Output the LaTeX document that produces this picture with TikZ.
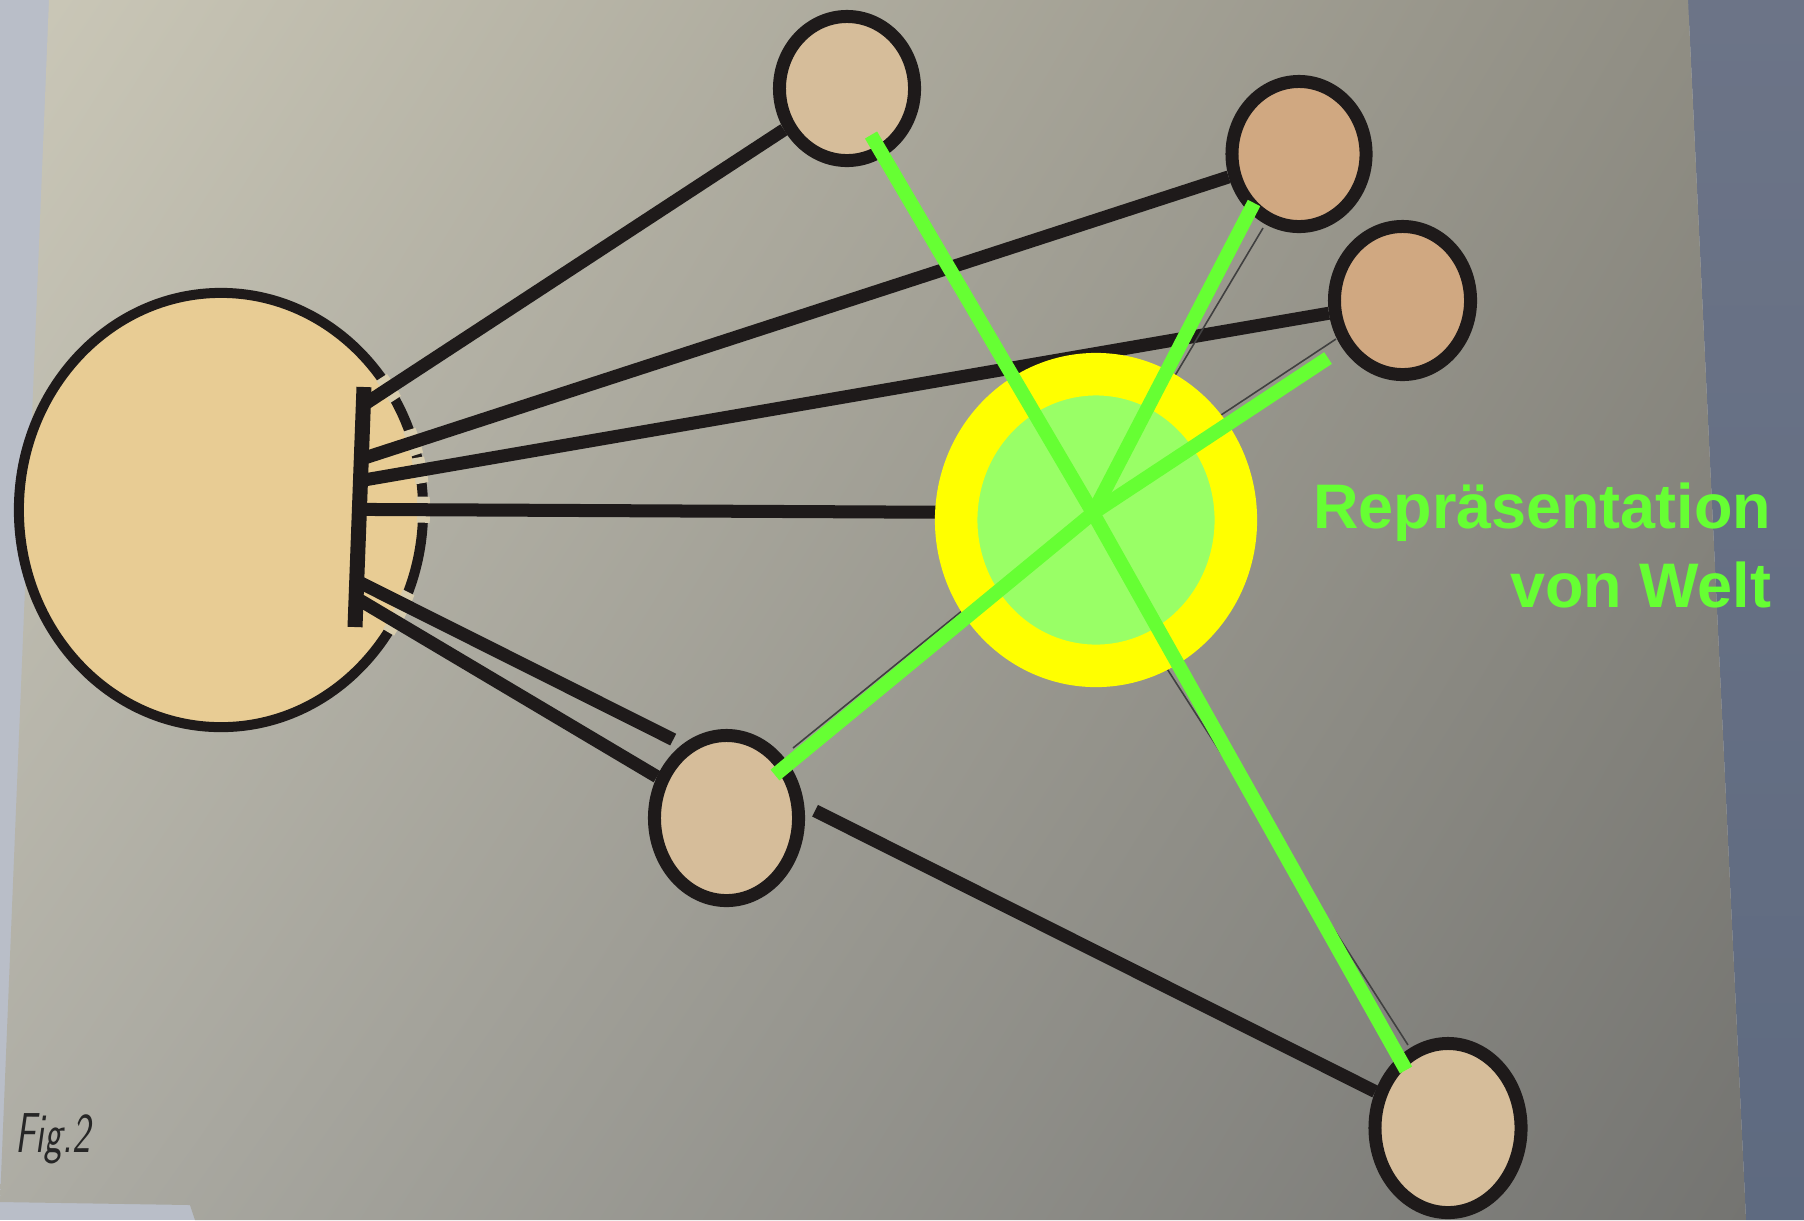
\documentclass[tikz,border=0pt]{standalone}
\usepackage{fontspec}
\usepackage{tikz}
\usetikzlibrary{calc, shapes.geometric, shadings}
\newfontfamily\labelfont{Liberation Sans}
\definecolor{paperUL}{HTML}{CBC8B8}
\definecolor{paperUR}{HTML}{8E8C82}
\definecolor{paperLL}{HTML}{ADACA4}
\definecolor{paperLR}{HTML}{747471}
\definecolor{paperGap}{HTML}{D8CDAE}
\definecolor{wallLight}{HTML}{B9BEC8}
\definecolor{wallTop}{HTML}{6C7487}
\definecolor{wallBottom}{HTML}{5E6A80}
\definecolor{inkBlack}{HTML}{1E1A1A}
\definecolor{bigFill}{HTML}{E8CC94}
\definecolor{smallFill}{HTML}{D6BD9A}
\definecolor{rustFill}{HTML}{D0A881}
\definecolor{repGreen}{HTML}{66FF33}
\definecolor{repFill}{HTML}{99FF66}
\definecolor{ringYellow}{HTML}{FFFF00}
\tikzset{
  bignode/.style={ellipse, draw=inkBlack, fill=bigFill, line width=0.10cm, inner sep=0pt,
    minimum width=4.04cm, minimum height=4.34cm},
  planet/.style={ellipse, draw=inkBlack, fill=smallFill, line width=0.13cm, inner sep=0pt},
  stroke/.style={draw=inkBlack, line width=0.13cm},
  hair/.style={draw=black!75, line width=0.45pt},
  repline/.style={draw=repGreen, line width=0.14cm}
}

\begin{document}
\begin{tikzpicture}[x=0.01cm, y=-0.01cm]
  \useasboundingbox (0,0) rectangle (1804,1220);
  % photo background
  \fill[wallLight] (0,0) rectangle (1804,1220);
  \shade[top color=wallTop, bottom color=wallBottom] (1688,0) -- (1804,0) -- (1804,1220) -- (1746,1220) -- cycle;
  \shade[upper left=paperUL, upper right=paperUR, lower left=paperLL, lower right=paperLR]
    (49,0) -- (1688,0) -- (1746,1220) -- (195,1220) -- (190,1205) -- (0,1202) -- cycle;

  \node[bignode] (big) at (221,510) {};
  \node[planet, minimum width=1.35cm, minimum height=1.44cm] (c1) at (847,88.5) {};
  \node[planet, fill=rustFill, minimum width=1.34cm, minimum height=1.45cm] (c2) at (1299,154) {};
  \node[planet, fill=rustFill, minimum width=1.36cm, minimum height=1.48cm] (c3) at (1402.5,300.5) {};
  \node[planet, minimum width=1.44cm, minimum height=1.65cm] (c4) at (726.5,818) {};
  \node[planet, minimum width=1.46cm, minimum height=1.69cm] (c5) at (1448,1128) {};

  \coordinate (bartop) at (364,387);
  \coordinate (barbot) at (355,627);
  \coordinate (hub) at (1093,513);
  \coordinate (b1) at ($(bartop)!0.075!(barbot)$);
  \coordinate (b2) at ($(bartop)!0.30!(barbot)$);
  \coordinate (b3) at ($(bartop)!0.39!(barbot)$);
  \coordinate (b4) at ($(bartop)!0.51!(barbot)$);
  \coordinate (b5) at ($(bartop)!0.808!(barbot)$);
  \coordinate (b6) at ($(bartop)!0.879!(barbot)$);

  % gaps in the outline of the big circle
  \begin{scope}
    \clip (big.center) ellipse [x radius=209, y radius=224];
    \foreach \b/\c in {b1/c1, b2/c2, b3/c3, b4/hub, b5/c5, b6/c4}
      \draw[paperGap, line width=0.26cm] (\b) -- (\c);
  \end{scope}
  \fill[bigFill] (big.center) ellipse [x radius=196, y radius=211];

  \draw[stroke, line width=0.15cm] (bartop) -- (barbot);
  \draw[stroke] (b1) -- (c1);
  \draw[stroke] (b2) -- (c2);
  \draw[stroke] (b3) -- (c3);
  \draw[stroke] (b4) -- (hub);
  \draw[stroke] (b5) -- ($(b5)!0.29!(c5)$);
  \draw[stroke] ($(b5)!0.42!(c5)$) -- (c5);
  \draw[stroke] (b6) -- (c4);

  % fine pencil lines under the overlay
  \coordinate (t1) at (1263,228);
  \coordinate (t2) at (1336,339);
  \coordinate (t3) at (793,748);
  \coordinate (t4) at (1408,1045);
  \draw[hair] (t1) -- (hub);
  \draw[hair] (t2) -- (1150,462);
  \draw[hair] (t3) -- (1000,580);
  \draw[hair] (t4) -- (1123,600);

  \node[ellipse, draw=ringYellow, fill=repFill, line width=0.425cm, inner sep=0pt,
    minimum width=2.795cm, minimum height=2.915cm] (rep) at (1096,520) {};

  \coordinate (g1) at (871,135);
  \coordinate (g2) at (1254,203);
  \coordinate (g3) at (1328,358);
  \coordinate (g4) at (775,775);
  \coordinate (g5) at (1406,1070);
  \draw[repline] (g1) -- (hub) -- (g5);
  \draw[repline] (g2) -- (hub);
  \draw[repline] (g3) -- (hub) -- (g4);

  \node[anchor=base east, inner sep=0pt, text=repGreen,
    font=\labelfont\bfseries\fontsize{17.9}{22.5}\selectfont] (rep1) at (1772,528) {Repräsentation};
  \node[anchor=base east, inner sep=0pt, text=repGreen,
    font=\labelfont\bfseries\fontsize{17.9}{22.5}\selectfont] (rep2) at (1772,607) {von Welt};
  \node[anchor=base west, inner sep=0pt, xscale=0.68, text=black!85,
    font=\sffamily\slshape\fontsize{16}{19}\selectfont] (fig) at (15,1152) {Fig.2};
\end{tikzpicture}
\end{document}
